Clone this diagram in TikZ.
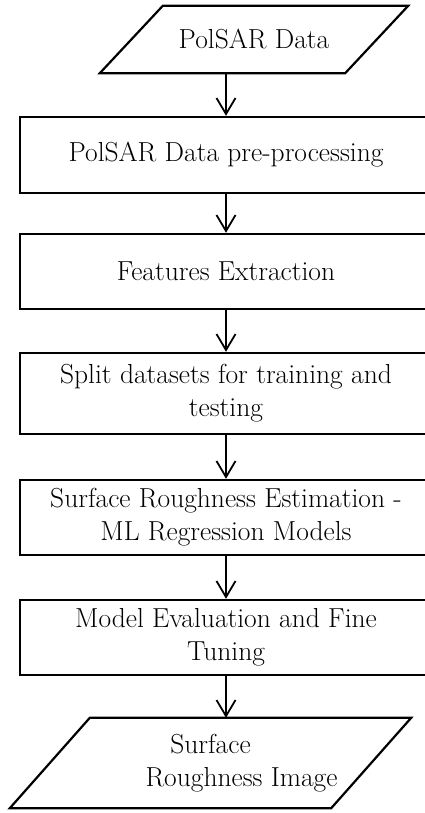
\documentclass[tikz,border=0pt]{standalone}
\usepackage{tikz}
\usetikzlibrary{positioning, arrows.meta}
\definecolor{ink}{RGB}{0,0,0}

\begin{document}
\begin{tikzpicture}[x=1pt, y=-1pt,
    proc/.style={rectangle, draw=ink, line width=2.4pt, minimum width=412pt, inner sep=0pt, align=center, font=\fontsize{27.5}{33}\selectfont},
    io/.style={inner sep=0pt, align=center, font=\fontsize{27.5}{33}\selectfont,
      append after command={\pgfextra{\draw[ink, line width=2.2pt, line join=miter]
        ([xshift=-#1]\tikzlastnode.south west) -- ([xshift=#1]\tikzlastnode.north west)
        -- ([xshift=#1]\tikzlastnode.north east) -- ([xshift=-#1]\tikzlastnode.south east) -- cycle;}}},
    flow/.style={draw=ink, line width=1.8pt, -{Straight Barb[length=16pt, width=19pt]}}]
  \useasboundingbox (0,0) rectangle (425,813);
  \node[io=31.5pt, minimum width=245pt, minimum height=67pt] (data) at (254,39.5) {PolSAR Data};
  \node[proc, minimum height=76pt] (prep) at (226,155) {PolSAR Data pre-processing};
  \node[proc, minimum height=75pt] (feat) at (226,271.5) {Features Extraction};
  \node[proc, minimum height=81pt] (split) at (226,393.5) {Split datasets for training and\\testing};
  \node[proc, minimum height=75pt] (regr) at (226,517.5) {Surface Roughness Estimation -\\ML Regression Models};
  \node[proc, minimum height=75pt] (tune) at (226,637.5) {Model Evaluation and Fine\\Tuning};
  \node[io=40pt, minimum width=321pt, minimum height=90pt] (out) at (210.5,763) {Surface\\\hspace*{62pt}Roughness Image};
  \draw[flow] (data.south -| prep.north) -- (prep.north);
  \draw[flow] (prep) -- (feat);
  \draw[flow] (feat) -- (split);
  \draw[flow] (split) -- (regr);
  \draw[flow] (regr) -- (tune);
  \draw[flow] (tune.south) -- (tune.south |- out.north);
\end{tikzpicture}
\end{document}
